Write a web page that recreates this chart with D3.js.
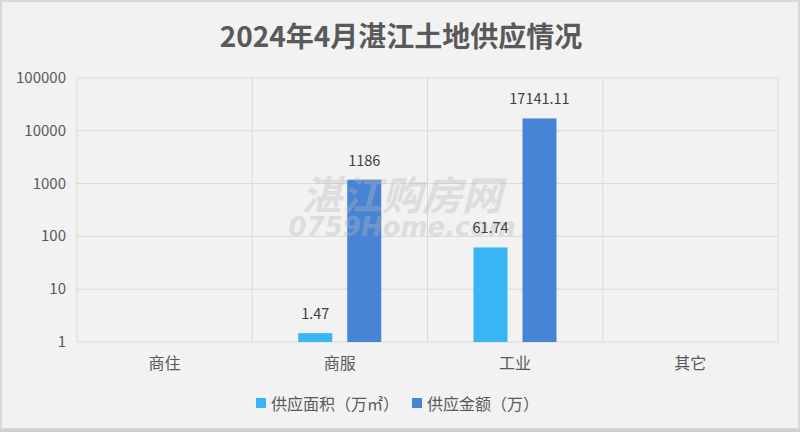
<!DOCTYPE html>
<html><head><meta charset="utf-8">
<script src="https://cdn.jsdelivr.net/npm/d3@7/dist/d3.min.js"></script>
<style>body{margin:0;background:#f2f2f2;}svg{display:block;}</style>
</head><body>
<svg id="c" width="800" height="432"></svg>
<script>
const title = "2024年4月湛江土地供应情况";
const categories = ["商住", "商服", "工业", "其它"];
const seriesNames = ["供应面积（万㎡）", "供应金额（万）"];
const areaValues = [null, 1.47, 61.74, null];
const amountValues = [null, 1186, 17141.11, null];
const areaLabels = [null, "1.47", "61.74", null];
const amountLabels = [null, "1186", "17141.11", null];
const yTicks = [1, 10, 100, 1000, 10000, 100000];
const colors = ["#38b5f5", "#4884d6"];

(function(){
const font = "'Noto Sans CJK SC','Noto Sans',sans-serif";
const svg = d3.select("#c");
svg.append("rect").attr("x",1).attr("y",1).attr("width",798).attr("height",428)
  .attr("fill","#f2f2f2").attr("stroke","#d9d9d9").attr("stroke-width",2);
svg.append("rect").attr("x",0).attr("y",429).attr("width",800).attr("height",3).attr("fill","#d0d0d0");

svg.append("text").attr("x",401).attr("y",47).attr("text-anchor","middle")
  .attr("font-family",font).attr("font-weight","bold").attr("font-size",28)
  .attr("fill","#595959").text(title);

const pL = 77, pR = 778, pT = 78, pB = 342;
const y = d3.scaleLog().domain([1,100000]).range([pB, pT]);
const x0 = d3.scaleBand().domain(categories).range([pL, pR]);
const x1 = d3.scaleBand().domain([0,1]).range([46, 129]).paddingInner(0.306);

const grid = svg.append("g");
grid.selectAll("line.h").data(yTicks).join("line")
  .attr("x1",pL).attr("x2",pR).attr("y1",d=>y(d)).attr("y2",d=>y(d))
  .attr("stroke","#d9d9d9").attr("stroke-width",1);
const vb = categories.map(c=>x0(c)).concat([pR]);
grid.selectAll("line.v").data(vb).join("line")
  .attr("x1",d=>d).attr("x2",d=>d).attr("y1",pT).attr("y2",pB)
  .attr("stroke","#d9d9d9").attr("stroke-width",1);

// y axis labels
svg.append("g").selectAll("text").data(yTicks).join("text")
  .attr("x",66).attr("y",d=>y(d)+5).attr("text-anchor","end")
  .attr("font-family",font).attr("font-size",15).attr("fill","#595959").text(d=>d);

const series = [areaValues, amountValues];
const labels = [areaLabels, amountLabels];
const labelG = [];
series.forEach((vals, si) => {
  const g = svg.append("g");
  const data = categories.map((c,i)=>({c, v: vals[i], l: labels[si][i]})).filter(d=>d.v!=null);
  g.selectAll("rect").data(data).join("rect")
    .attr("x",d=>x0(d.c)+x1(si)).attr("width",x1.bandwidth())
    .attr("y",d=>y(d.v)).attr("height",d=>y(1)-y(d.v)).attr("fill",colors[si]);
  labelG.push({data, si});
});

// watermark (drawn over bars)
svg.append("text").attr("x",402).attr("y",210).attr("text-anchor","middle")
  .attr("font-family",font).attr("font-weight","bold").attr("font-style","italic")
  .attr("font-size",40).attr("fill","#b8b8b8").attr("opacity",0.35)
  .text("湛江购房网");
svg.append("text").attr("x",402).attr("y",236).attr("text-anchor","middle")
  .attr("font-family","'DejaVu Sans',sans-serif").attr("font-weight","bold").attr("font-style","italic")
  .attr("font-size",26).attr("fill","#b8b8b8").attr("opacity",0.35).text("0759Home.com");

labelG.forEach(({data, si}) => {
  svg.append("g").selectAll("text").data(data).join("text")
    .attr("x",d=>x0(d.c)+x1(si)+x1.bandwidth()/2).attr("y",d=>y(d.v)-14)
    .attr("text-anchor","middle").attr("font-family",font).attr("font-size",14.5)
    .attr("fill","#404040").text(d=>d.l);
});

// x labels
svg.append("g").selectAll("text").data(categories).join("text")
  .attr("x",d=>x0(d)+x0.bandwidth()/2).attr("y",369).attr("text-anchor","middle")
  .attr("font-family",font).attr("font-size",16).attr("fill","#595959").text(d=>d);

// legend
const lg = svg.append("g");
const lx = [256, 412];
seriesNames.forEach((n,i)=>{
  lg.append("rect").attr("x",lx[i]).attr("y",398).attr("width",10).attr("height",10).attr("fill",colors[i]);
  lg.append("text").attr("x",lx[i]+15).attr("y",410).attr("font-family",font).attr("font-size",16)
    .attr("fill","#595959").text(n);
});
})();
</script>
</body></html>
